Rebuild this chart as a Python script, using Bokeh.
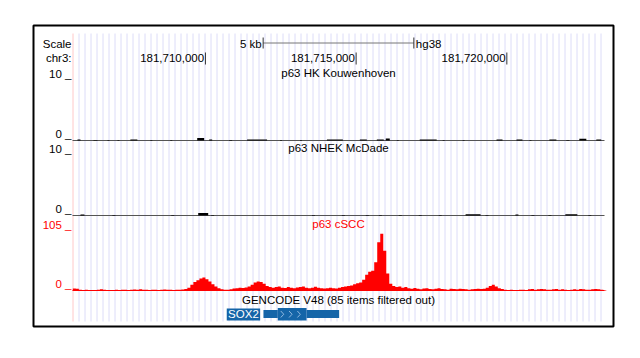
from bokeh.plotting import figure
from bokeh.models import Range1d
from bokeh.embed import file_html
from bokeh.resources import INLINE
from bokeh.core.properties import value

# ---------------- data ----------------
CHROM = "chr3"
ASSEMBLY = "hg38"
VIEW_START = 181705590
VIEW_END = 181723240
TICKS = [181710000, 181715000, 181720000]
SCALE_BAR_BP = 5000
SCALE_BAR_LABEL = "5 kb"

TRACK_NAMES = ["p63 HK Kouwenhoven", "p63 NHEK McDade", "p63 cSCC"]
TRACK_MAX = [10, 10, 105]

# p63 cSCC signal, 100 bp bins
CSCC_BIN_START = 181705600
CSCC_BIN_SIZE = 100
cscc_signal = [
    3.5, 3, 1.5, 1, 1.2, 1, 0.8, 1, 1.5, 2,
    1.5, 1, 0.8, 1, 1.2, 1, 1.5, 1.2, 1, 1.5,
    1.8, 1.5, 2, 1.5, 1.2, 1, 1.5, 1.2, 1, 1.5,
    1.8, 1.2, 1.5, 1, 1.5, 1.2, 1.8, 2.5, 5, 10,
    15, 18, 21, 23, 20, 16, 11, 7, 4, 2,
    1.5, 1.2, 2, 3.5, 4, 5, 4.5, 5.5, 7, 10,
    14, 16, 15, 12, 8, 6, 5, 6, 7, 5,
    4.5, 6, 5, 4, 5.5, 6, 7, 5, 4, 5,
    6.5, 5, 4, 3.5, 4, 5, 4, 3.5, 5, 6,
    7, 8, 9, 11, 13, 14, 19, 28, 33, 35,
    50, 85, 100, 70, 30, 12, 8, 6, 7, 5,
    6, 4, 3, 4.5, 3, 2, 3.5, 4, 2.5, 2,
    3, 4, 2.5, 2, 1.5, 3, 2.5, 2, 3, 2.5,
    2, 1.5, 2, 2.5, 3, 2.5, 3, 5, 8, 10,
    7, 4, 2.5, 1.5, 1, 1.2, 0.8, 1, 1.5, 1.2,
    1, 2, 2.5, 1.5, 2, 2.5, 2, 1.5, 1.2, 2,
    2.5, 1.5, 2, 1.5, 1, 1.5, 2, 1.5, 2.5, 2,
    1.5, 1.2, 2, 2.5, 2, 1.5, 1,
]

# p63 HK Kouwenhoven signal (start, end, value)
hk_start = [181705756, 181706285, 181706749, 181707080, 181707510, 181708172, 181708834,
            181709728, 181710125, 181710787, 181711383, 181712475, 181713137, 181714031,
            181715123, 181715686, 181715983, 181716348, 181717109, 181717870, 181718532,
            181719658, 181720320, 181720750, 181721412, 181721975, 181722405, 181722968]
hk_end = [181705855, 181706418, 181706815, 181707146, 181707742, 181708238, 181708900,
          181709959, 181710224, 181710886, 181712045, 181712541, 181713203, 181714560,
          181715355, 181715917, 181716116, 181716414, 181717672, 181717936, 181718598,
          181719856, 181720518, 181720816, 181721644, 181722074, 181722637, 181723133]
hk_value = [0.15, 0.1, 0.1, 0.1, 0.15, 0.1, 0.1,
            0.4, 0.15, 0.1, 0.15, 0.1, 0.1, 0.15,
            0.15, 0.15, 0.35, 0.1, 0.15, 0.1, 0.1,
            0.15, 0.15, 0.1, 0.15, 0.1, 0.3, 0.15]

# p63 NHEK McDade signal (start, end, value)
nhek_start = [181705855, 181706914, 181708867, 181709761, 181710191, 181713534, 181714527,
              181715321, 181715752, 181716414, 181717076, 181717738, 181718631, 181719293,
              181720286, 181720816, 181721379, 181721941, 181722703]
nhek_end = [181705987, 181707013, 181708966, 181710092, 181710290, 181713633, 181714626,
            181715420, 181715851, 181716513, 181717175, 181717837, 181719128, 181719392,
            181720385, 181720915, 181721478, 181722339, 181722802]
nhek_value = [0.15, 0.1, 0.1, 0.4, 0.1, 0.1, 0.1,
              0.1, 0.1, 0.1, 0.1, 0.1, 0.2, 0.1,
              0.15, 0.1, 0.1, 0.2, 0.1]

GENE_TRACK_LABEL = "GENCODE V48 (85 items filtered out)"
GENE_NAME = "SOX2"
GENE_START = 181711925
CDS_START = 181712400
CDS_END = 181713355
GENE_END = 181714436

# ---------------- layout (page pixels) ----------------
W, H = 632, 350
PX0, PY0 = 0, 0                 # page offset of canvas
DATA_L, DATA_R = 72, 604        # data area in page x
BPP = (VIEW_END - VIEW_START) / (DATA_R - DATA_L)
TRACK_TOP = [80, 154.5, 230.5]
TRACK_BASE = [140, 215, 290]
DY = -5                         # text baseline correction
FONT = value("Liberation Sans")
FS = "11.5px"
RED = "#ff0000"
BLUE = "#1565a8"

p = figure(width=W, height=H, output_backend="svg", toolbar_location=None,
           x_range=Range1d(VIEW_START - (DATA_L - PX0) * BPP,
                           VIEW_END + (PX0 + W - DATA_R) * BPP),
           y_range=Range1d(PY0 + H, PY0),
           min_border=0, x_axis_type=None, y_axis_type=None)
p.outline_line_color = None
p.xgrid.visible = False
p.ygrid.visible = False
p.background_fill_color = "white"
p.border_fill_color = "white"
p.extra_x_ranges = {"px": Range1d(PX0, PX0 + W)}


def track_range(base, top, vmax):
    u = vmax / (base - top)
    return Range1d(-(PY0 + H - base) * u, (base - PY0) * u)


p.extra_y_ranges = {f"t{i}": track_range(TRACK_BASE[i], TRACK_TOP[i], TRACK_MAX[i])
                    for i in range(3)}

# guide lines
gx = list(range(DATA_L, DATA_R + 1, 6))
p.segment(x0=[x + 0.5 for x in gx[1:]], x1=[x + 0.5 for x in gx[1:]],
          y0=33, y1=321, x_range_name="px", line_color="#dcdcf8", line_width=1)
p.segment(x0=[gx[0] + 0.5], x1=[gx[0] + 0.5], y0=33, y1=321, x_range_name="px",
          line_color="#ffc8c8", line_width=1)

# outer border
p.quad(left=[33], right=[613], top=[25], bottom=[326], x_range_name="px",
       fill_color=None, line_color="black", line_width=2)

# left labels
lab_y = [48, 62, TRACK_TOP[0] - 1.5, TRACK_BASE[0] - 1.5, TRACK_TOP[1] - 1.5,
         TRACK_BASE[1] - 1.5]
lab_t = ["Scale", CHROM + ":", f"{TRACK_MAX[0]} _", "0 _", f"{TRACK_MAX[1]} _", "0 _"]
p.text(x=[71] * len(lab_y), y=[y + DY for y in lab_y], text=lab_t, x_range_name="px",
       text_font=FONT, text_font_size=FS, text_align="right",
       text_baseline="alphabetic", text_color="black")
p.text(x=[71, 71], y=[TRACK_TOP[2] - 1.5 + DY, TRACK_BASE[2] - 1.5 + DY],
       text=[f"{TRACK_MAX[2]} _", "0 _"], x_range_name="px",
       text_font=FONT, text_font_size=FS, text_align="right",
       text_baseline="alphabetic", text_color=RED)

# scale bar
center = (VIEW_START + VIEW_END) / 2
sb0, sb1 = center - SCALE_BAR_BP / 2, center + SCALE_BAR_BP / 2
p.segment(x0=[sb0], x1=[sb1], y0=42.5, y1=42.5, line_color="#777777", line_width=1)
p.segment(x0=[sb0, sb1], x1=[sb0, sb1], y0=37, y1=48, line_color="#333333", line_width=1)
p.text(x=[sb0 - 1.5 * BPP], y=[48 + DY], text=[SCALE_BAR_LABEL], text_font=FONT,
       text_font_size=FS, text_align="right", text_baseline="alphabetic")
p.text(x=[sb1 + 2 * BPP], y=[48 + DY], text=[ASSEMBLY], text_font=FONT,
       text_font_size=FS, text_align="left", text_baseline="alphabetic")

# chromosome ticks
p.segment(x0=TICKS, x1=TICKS, y0=52, y1=64, line_color="#333333", line_width=1)
p.text(x=[t - 1.3 * BPP for t in TICKS], y=[62 + DY] * len(TICKS),
       text=[f"{t:,}" for t in TICKS], text_font=FONT, text_font_size=FS,
       text_align="right", text_baseline="alphabetic")

# track titles
p.text(x=[center] * 2, y=[TRACK_TOP[0] - 2.5 + DY, TRACK_TOP[1] - 2 + DY],
       text=TRACK_NAMES[:2], text_font=FONT, text_font_size=FS,
       text_align="center", text_baseline="alphabetic", text_color="black")
p.text(x=[center], y=[TRACK_TOP[2] - 2.5 + DY], text=[TRACK_NAMES[2]], text_font=FONT,
       text_font_size=FS, text_align="center", text_baseline="alphabetic",
       text_color=RED)

# black tracks
for i, (s, e, v) in enumerate([(hk_start, hk_end, hk_value),
                                (nhek_start, nhek_end, nhek_value)]):
    p.segment(x0=[VIEW_START], x1=[VIEW_END], y0=0, y1=0, y_range_name=f"t{i}",
              line_color="#555555", line_width=1)
    p.quad(left=s, right=e, bottom=[0] * len(s), top=v, y_range_name=f"t{i}",
           fill_color="black", line_color=None)

# red track
xs = [CSCC_BIN_START + i * CSCC_BIN_SIZE for i in range(len(cscc_signal) + 1)]
ys = cscc_signal + [cscc_signal[-1]]
p.segment(x0=[VIEW_START], x1=[VIEW_END], y0=0, y1=0, y_range_name="t2",
          line_color=RED, line_width=1)
p.varea_step(x=xs, y1=[0] * len(xs), y2=ys, step_mode="after",
             y_range_name="t2", fill_color=RED)

# gene track
p.text(x=[center], y=[304 + DY], text=[GENE_TRACK_LABEL], text_font=FONT,
       text_font_size=FS, text_align="center", text_baseline="alphabetic")
p.quad(left=[GENE_START, CDS_END], right=[CDS_START, GENE_END], top=[309.5, 309.5],
       bottom=[317.5, 317.5], fill_color=BLUE, line_color=None)
p.quad(left=[CDS_START], right=[CDS_END], top=[307.5], bottom=[320],
       fill_color=BLUE, line_color=None)
chev_x = []
cx = CDS_START + 3 * BPP
while cx < CDS_END - 5 * BPP:
    chev_x.append(cx)
    cx += 8.3 * BPP
p.multi_line(xs=[[c, c + 3 * BPP, c] for c in chev_x],
             ys=[[310.5, 313.75, 317] for _ in chev_x],
             line_color="#8fb8e0", line_width=1)
p.quad(left=[GENE_START - 36.7 * BPP], right=[GENE_START - 3.3 * BPP],
       top=[308], bottom=[320], fill_color=BLUE, line_color=None)
p.text(x=[GENE_START - 20 * BPP], y=[318.5 + DY], text=[GENE_NAME], text_font=FONT,
       text_font_size=FS, text_align="center", text_baseline="alphabetic",
       text_color="white")

open("out.html", "w").write(file_html(p, INLINE))
